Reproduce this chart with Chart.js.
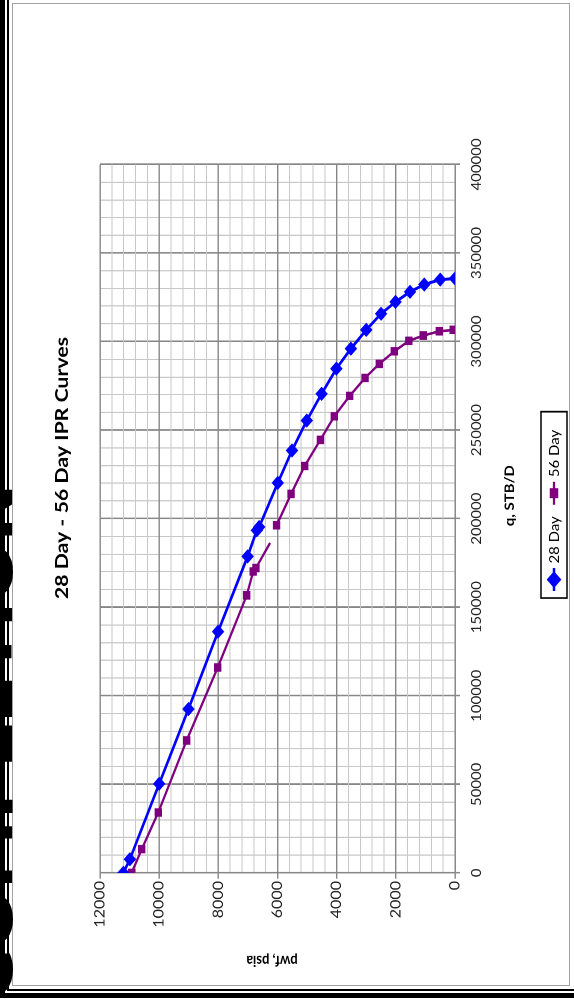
<!DOCTYPE html>
<html>
<head>
<meta charset="utf-8">
<script src="https://cdn.jsdelivr.net/npm/chart.js@4.4.1/dist/chart.umd.min.js"></script>
<style>
  html, body { margin: 0; padding: 0; background: #fff; }
  body { width: 574px; height: 1004px; position: relative; overflow: hidden; }
  .rule { position: absolute; background: #000; }
  #panel { position: absolute; left: 12px; top: 3px; width: 558px; height: 983px;
           border: 1.5px solid #a2a2a2; box-sizing: border-box; }
  /* the sheet is laid out landscape and turned a quarter to the left */
  #sheet { position: absolute; left: 0; top: 0; width: 873px; height: 574px;
           transform-origin: 0 0;
           transform: translate(0, 1004px) rotate(-90deg) scaleX(1.15006); }
  #chart { position: absolute; left: 0; top: 0; }
  #heading { position: absolute; left: 3px; top: -40px; white-space: nowrap;
             font: bold 61px "DejaVu Sans", sans-serif; line-height: 61px; color: #000; }
</style>
</head>
<body>
<div id="panel"></div>
<div class="rule" style="left:0;top:0;width:5px;height:998px"></div>
<div class="rule" style="left:0;top:993px;width:574px;height:5px"></div>
<div class="rule" style="left:7px;top:0;width:2px;height:991px"></div>
<div class="rule" style="left:7px;top:989px;width:567px;height:2px"></div>
<div id="sheet">
  <div id="heading">COMPLETION</div>
  <canvas id="chart" width="873" height="574"></canvas>
</div>
<script>
// IPR curves: flowing bottom-hole pressure against rate
const seriesNames = ['28 Day', '56 Day'];

const q28   = [0, 7700, 50300, 92500, 136200, 178700, 193400, 195300, 220200, 238500, 255400,
               270500, 284700, 296000, 306600, 315700, 322400, 328100, 332200, 335000, 335600];
const pwf28 = [11210, 10990, 10000, 9010, 8010, 7010, 6700, 6620, 5990, 5510, 5010,
               4510, 4010, 3520, 3000, 2500, 2010, 1520, 1040, 500, 0];

const q56   = [0, 13400, 34100, 74800, 116000, 156700, 170200, 172100, 186300, null, 196300,
               214000, 229800, 244500, 257800, 269300, 279500, 287400, 294500, 300400, 303400, 305800, 306600];
const pwf56 = [10930, 10590, 10030, 9070, 8020, 7040, 6820, 6730, 6250, null, 6030,
               5540, 5080, 4550, 4080, 3560, 3040, 2560, 2050, 1560, 1070, 530, 60];
// points of the 56 day run drawn without a marker
const unmarked56 = [8];

const qTickLabels   = [0, 50000, 100000, 150000, 200000, 250000, 300000, 350000, 400000];
const pwfTickLabels = [0, 2000, 4000, 6000, 8000, 10000, 12000];

const chartTitle = '28 Day - 56 Day IPR Curves';
const qTitle = 'q, STB/D';
const pwfTitle = 'pwf, psia';

const FONT = 'Lato, "Open Sans", sans-serif';
const BLUE = '#0000ff';
const PURPLE = '#7f007f';
const MAJOR = '#868686';
const MINOR = '#c8c8c8';

const toPoints = (qs, ps) => qs.map((q, i) => ({ x: q, y: ps[i] }));

const markerSize = { rectRot: 5.5, rect: 4.5 };

// titles and boxed legend
const decor = {
  id: 'decor',
  afterDraw(chart) {
    const { ctx } = chart;
    ctx.save();
    ctx.fillStyle = '#000';
    ctx.textAlign = 'center';
    ctx.textBaseline = 'middle';
    ctx.font = 'bold 18.5px ' + FONT;
    ctx.fillText(chartTitle, 466, 62);
    ctx.font = 'bold 13px ' + FONT;
    ctx.fillText(qTitle, 442, 510);
    ctx.save();
    ctx.translate(38, 272);
    ctx.rotate(-Math.PI / 2);
    ctx.fillText(pwfTitle, 0, 0);
    ctx.restore();

    // legend
    const box = { x: 353, y: 541, w: 162, h: 26 };
    ctx.strokeStyle = '#000';
    ctx.lineWidth = 1.5;
    ctx.strokeRect(box.x, box.y, box.w, box.h);
    const cy = box.y + box.h / 2;
    let x = box.x + 6;
    ctx.font = '13px ' + FONT;
    ctx.textAlign = 'left';
    chart.data.datasets.forEach(ds => {
      ctx.strokeStyle = ds.borderColor;
      ctx.lineWidth = ds.borderWidth;
      ctx.beginPath();
      ctx.moveTo(x, cy);
      ctx.lineTo(x + 20, cy);
      ctx.stroke();
      ctx.fillStyle = ds.borderColor;
      Chart.helpers.drawPoint(ctx, {
        pointStyle: ds.pointStyle, radius: markerSize[ds.pointStyle], borderWidth: 1, rotation: 0
      }, x + 10, cy);
      ctx.fillStyle = '#000';
      ctx.fillText(ds.label, x + 24, cy + 1);
      x += 24 + ctx.measureText(ds.label).width + 10;
    });
    ctx.restore();
  }
};

const gridFor = labels => ({
  color: c => labels.includes(c.tick.value) ? MAJOR : MINOR,
  lineWidth: c => labels.includes(c.tick.value) ? 1.4 : 1,
  tickColor: c => labels.includes(c.tick.value) ? MAJOR : 'rgba(0,0,0,0)',
  tickLength: 5,
  drawTicks: true
});

new Chart(document.getElementById('chart'), {
  type: 'scatter',
  data: {
    datasets: [
      {
        label: seriesNames[0],
        data: toPoints(q28, pwf28),
        showLine: true,
        borderColor: BLUE,
        backgroundColor: BLUE,
        borderWidth: 2.6,
        pointStyle: 'rectRot',
        pointRadius: markerSize.rectRot,
        pointBorderWidth: 1
      },
      {
        label: seriesNames[1],
        data: toPoints(q56, pwf56),
        showLine: true,
        spanGaps: false,
        borderColor: PURPLE,
        backgroundColor: PURPLE,
        borderWidth: 2.2,
        pointStyle: 'rect',
        pointRadius: c => unmarked56.includes(c.dataIndex) ? 0 : markerSize.rect,
        pointBorderWidth: 1
      }
    ]
  },
  options: {
    responsive: false,
    devicePixelRatio: 2,
    animation: false,
    layout: { padding: { left: 44, top: 100, right: 143, bottom: 88 } },
    plugins: { legend: { display: false }, title: { display: false }, tooltip: { enabled: false } },
    scales: {
      x: {
        type: 'linear',
        min: 0, max: 400000,
        grid: gridFor(qTickLabels),
        border: { color: MAJOR, width: 1.4 },
        afterFit: s => { s.height = 31; },
        ticks: {
          stepSize: 10000,
          autoSkip: false,
          maxRotation: 0,
          minRotation: 0,
          padding: 9,
          color: '#222',
          font: { family: FONT, size: 13 },
          callback: v => qTickLabels.includes(v) ? String(v) : ''
        }
      },
      y: {
        type: 'linear',
        min: 0, max: 12000,
        grid: gridFor(pwfTickLabels),
        border: { color: MAJOR, width: 1.4 },
        afterFit: s => { s.width = 70; },
        ticks: {
          stepSize: 400,
          autoSkip: false,
          padding: 2,
          color: '#222',
          font: { family: FONT, size: 14 },
          callback: v => pwfTickLabels.includes(v) ? String(v) : ''
        }
      }
    }
  },
  plugins: [decor]
});
</script>
</body>
</html>
